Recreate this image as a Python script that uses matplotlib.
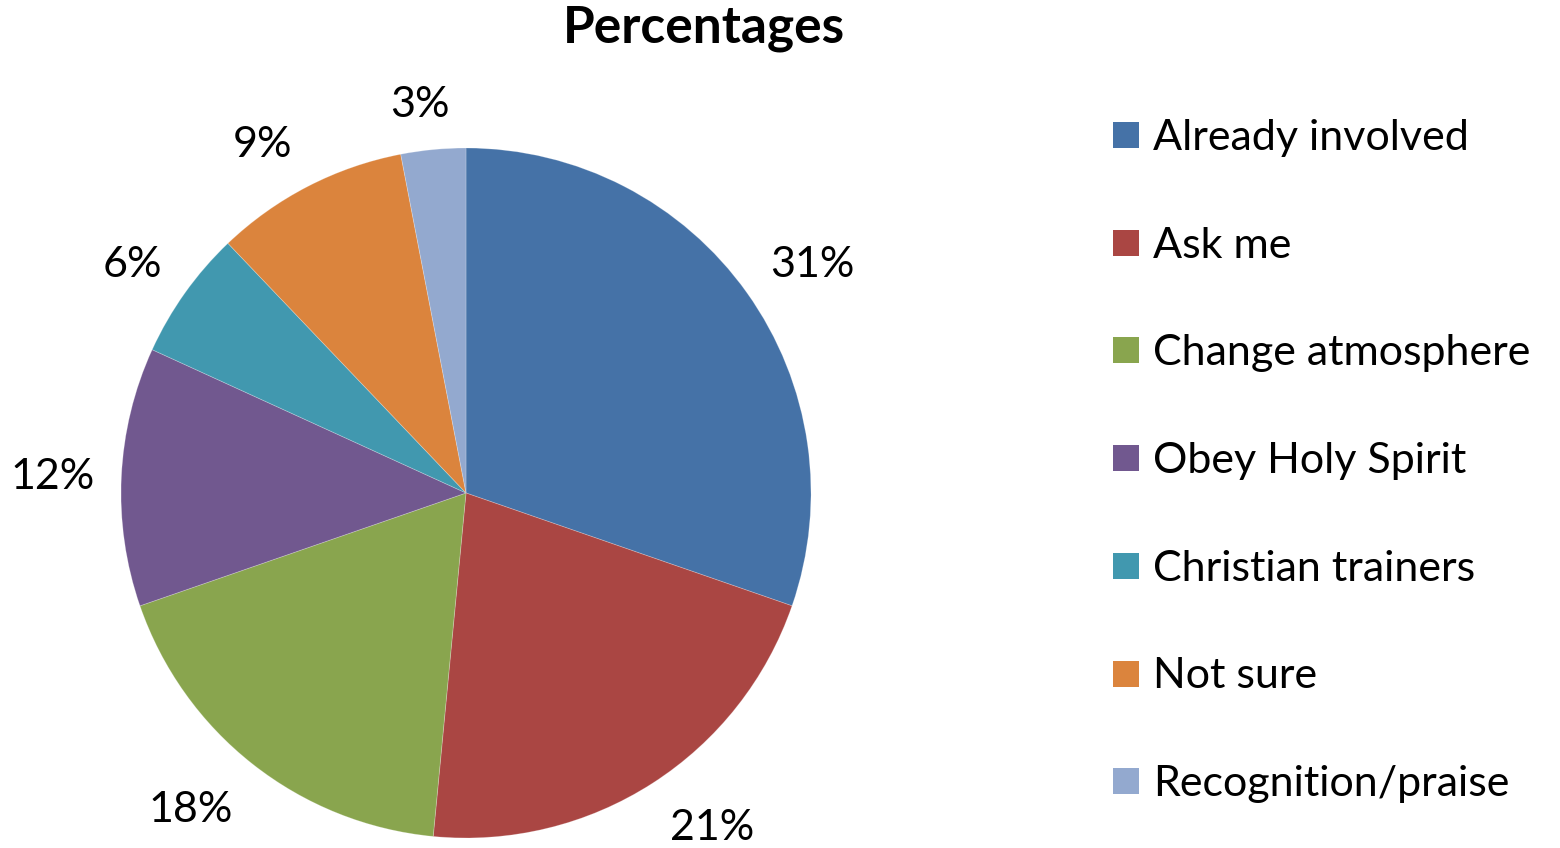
import matplotlib
matplotlib.use("Agg")
import matplotlib.pyplot as plt
from matplotlib.patches import Rectangle

categories = ["Already involved", "Ask me", "Change atmosphere", "Obey Holy Spirit",
              "Christian trainers", "Not sure", "Recognition/praise"]
# slice sizes (counts of 33 responses)
values = [10, 7, 6, 4, 2, 3, 1]
pct_labels = ["31%", "21%", "18%", "12%", "6%", "9%", "3%"]
colors = ["#4572A7", "#AA4643", "#89A54E", "#71588F", "#4198AF", "#DB843D", "#93A9CF"]

# label placement (axes data units, relative to pie radius)
label_pos = [(1.003, 0.661), (0.713, -0.971), (-0.797, -0.919), (-1.197, 0.046),
             (-0.968, 0.661), (-0.591, 1.009), (-0.133, 1.125)]

plt.rcParams['font.family'] = ['Lato', 'DejaVu Sans']

W, H = 1560, 848
fig = plt.figure(figsize=(W/100, H/100), dpi=100)

cx, cy, r = 466, 493, 345
ax = fig.add_axes([(cx - r)/W, (H - cy - r)/H, 2*r/W, 2*r/H])
wedges, texts = ax.pie(values, colors=colors, startangle=90, counterclock=False,
                       labels=pct_labels, labeldistance=1.19,
                       wedgeprops=dict(edgecolor="#ffffff40", linewidth=0.6),
                       textprops=dict(fontsize=31, ha="center", va="center"))
for t, p in zip(texts, label_pos):
    t.set_position(p)
    t.set_horizontalalignment("center")
    t.set_verticalalignment("center")
ax.set_xlim(-1, 1)
ax.set_ylim(-1, 1)
ax.set_aspect("equal")
ax.axis("off")

fig.text(704/W, 1 - 28/H, "Percentages", ha="center", va="center",
         fontsize=37, fontweight="bold")

y0, dy = 135, 107.7
sq = 26
for i, (c, lab) in enumerate(zip(colors, categories)):
    y = y0 + i*dy
    fig.patches.append(Rectangle(((1126 - sq/2)/W, 1 - (y + sq/2)/H), sq/W, sq/H,
                                 transform=fig.transFigure, facecolor=c, edgecolor="none"))
    fig.text(1153/W, 1 - (y + 3)/H, lab, ha="left", va="center", fontsize=31)

fig.savefig("out.png", dpi=100)
